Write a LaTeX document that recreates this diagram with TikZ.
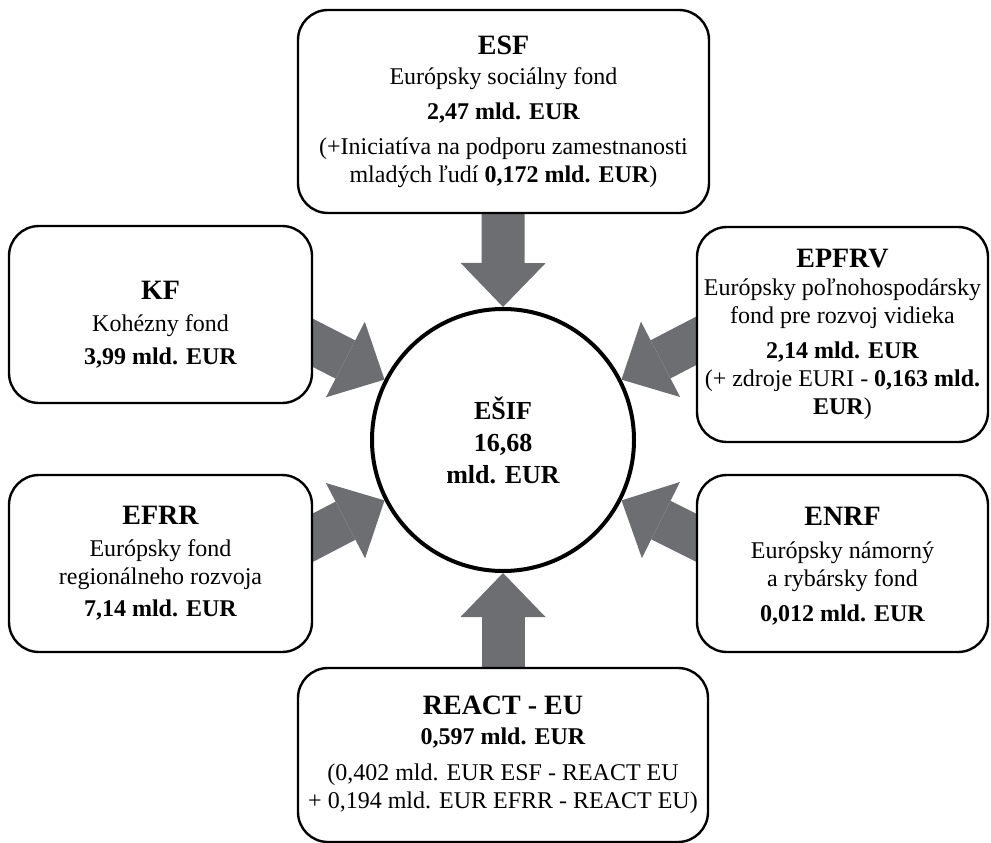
\documentclass[tikz,border=0pt]{standalone}
\usepackage{fontspec}
\setmainfont{Liberation Serif}
\usetikzlibrary{arrows.meta}
\pgfdeclarelayer{back}
\pgfsetlayers{back,main}
\definecolor{arrowgray}{RGB}{109,110,113}
\newcommand{\fundhd}[1]{{\fontsize{28}{32}\selectfont\bfseries #1}}
\tikzset{
  fund/.style={draw, line width=2.4pt, rounded corners=30pt, fill=white,
    align=center, inner sep=0pt, font=\fontsize{24}{28}\selectfont},
  total/.style={draw, circle, line width=4pt, fill=white, inner sep=0pt,
    minimum size=262pt, align=center, font=\fontsize{26}{32}\selectfont\bfseries},
  flow/.style={draw=arrowgray, line width=43pt,
    -{Triangle[length=44pt,width=85pt,line width=0pt]}, shorten <=-25pt},
}
\begin{document}
\begin{tikzpicture}[x=1pt,y=-1pt]
  \useasboundingbox (0,0) rectangle (991,843);
  \node[total] (esif) at (503,440) {EŠIF\\16,68\\mld. EUR};
  \node[fund, minimum width=411pt, minimum height=203pt] (esf) at (503.5,111.5)
    {\fundhd{ESF}\\[2pt] Európsky sociálny fond\\[7pt] \textbf{2,47 mld. EUR}\\[7pt]
     (+Iniciatíva na podporu zamestnanosti\\ mladých ľudí \textbf{0,172 mld. EUR})};
  \node[fund, minimum width=303pt, minimum height=177pt] (kf) at (160.5,314.5)
    {\rule{0pt}{38pt}\fundhd{KF}\\[4pt] Kohézny fond\\[5pt] \textbf{3,99 mld. EUR}};
  \node[fund, minimum width=291pt, minimum height=215pt] (epfrv) at (842.5,334.5)
    {\fundhd{EPFRV}\\ Európsky poľnohospodársky\\ fond pre rozvoj vidieka\\[7pt]
     \textbf{2,14 mld. EUR}\\ (+ zdroje EURI - \textbf{0,163 mld.}\\ \textbf{EUR})};
  \node[fund, minimum width=303pt, minimum height=177pt] (efrr) at (160.5,563.5)
    {\fundhd{EFRR}\\[4pt] Európsky fond\\ regionálneho rozvoja\\[4pt] \textbf{7,14 mld. EUR}};
  \node[fund, minimum width=291pt, minimum height=177pt] (enrf) at (842.5,563.5)
    {\rule{0pt}{23pt}\fundhd{ENRF}\\[5pt] Európsky námorný\\ a rybársky fond\\[7pt] \textbf{0,012 mld. EUR}};
  \node[fund, minimum width=410pt, minimum height=174pt] (react) at (503,755)
    {\fundhd{REACT - EU}\\[2pt] \textbf{0,597 mld. EUR}\\[8pt]
     (0,402 mld. EUR ESF - REACT EU\\ + 0,194 mld. EUR EFRR - REACT EU)};
  \begin{pgfonlayer}{back}
    \draw[flow] (esf) to (esif.north);
    \draw[flow] (react) to (esif.south);
    \draw[flow] ([yshift=-28.5pt]kf.east) to (esif.153);
    \draw[flow] ([yshift=-6.5pt]epfrv.west) to (esif.27);
    \draw[flow] ([yshift=26pt]efrr.east) to (esif.207);
    \draw[flow] ([yshift=26pt]enrf.west) to (esif.333);
  \end{pgfonlayer}
\end{tikzpicture}
\end{document}
